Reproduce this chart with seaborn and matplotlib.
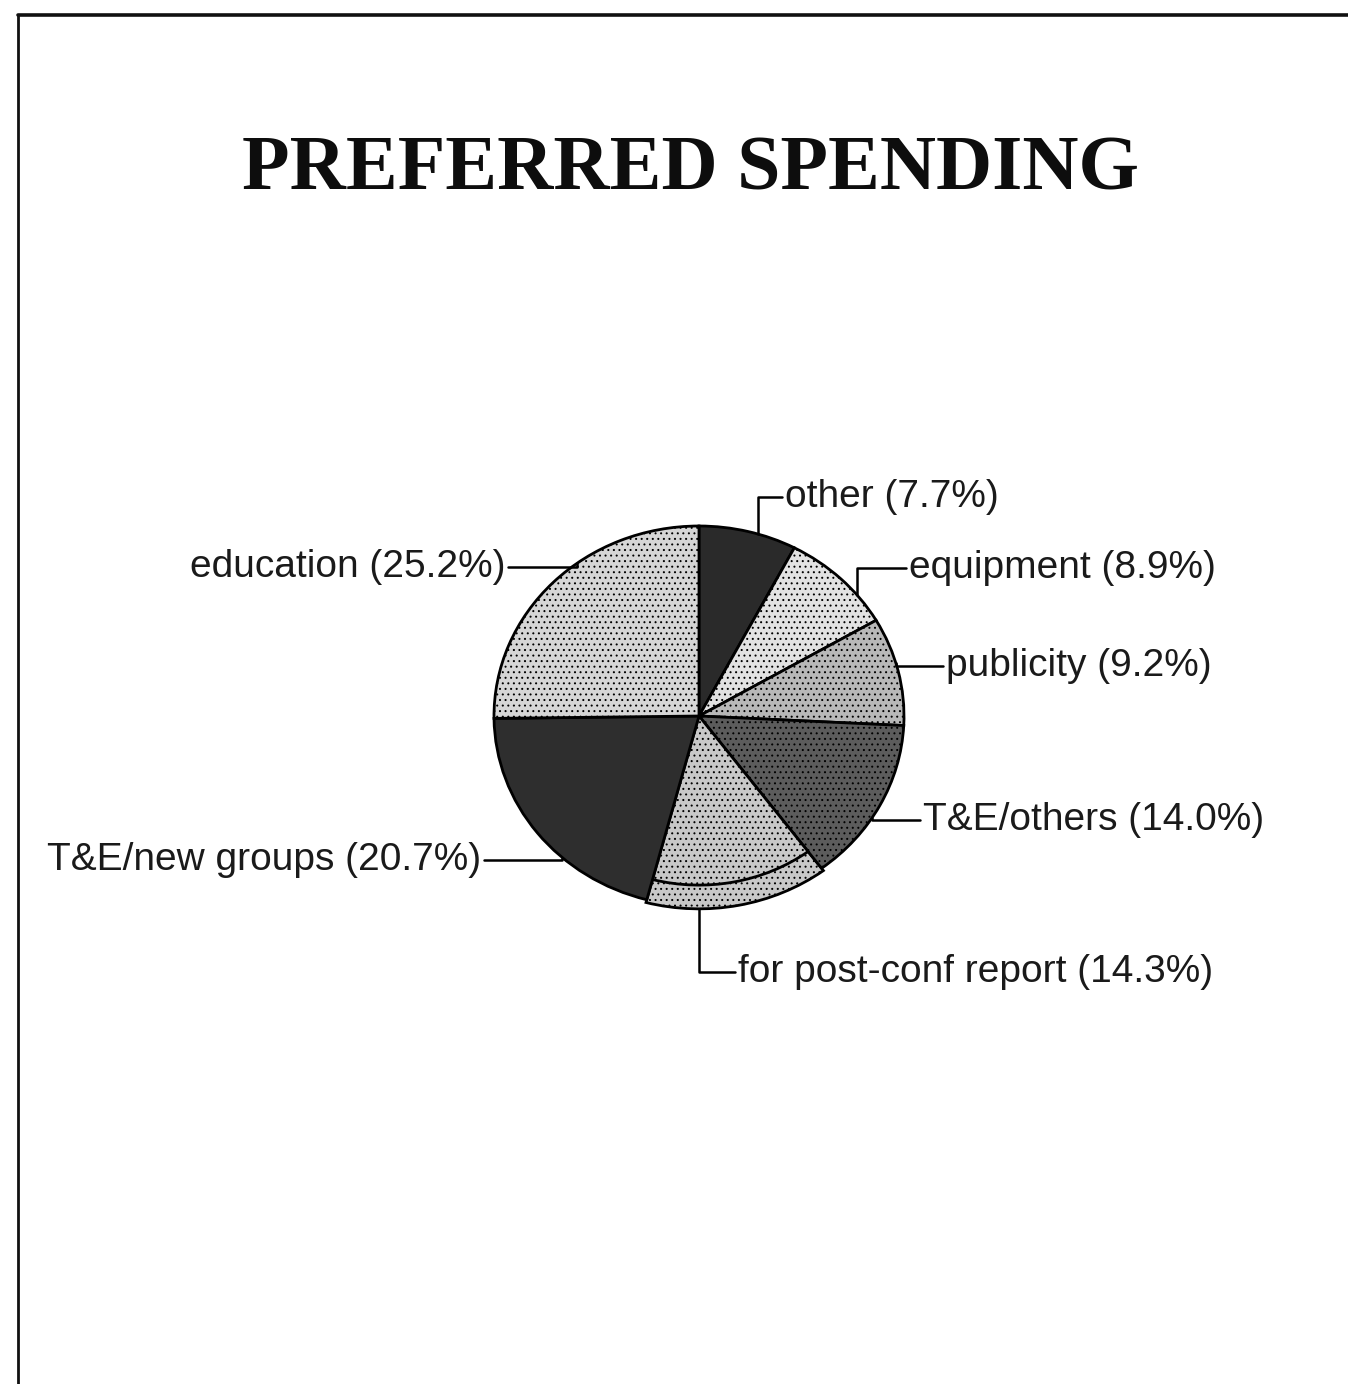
import numpy as np
import matplotlib
matplotlib.use("Agg")
import matplotlib.pyplot as plt
import seaborn as sns
from matplotlib.patches import Wedge
from matplotlib.lines import Line2D

# Spending shares, listed clockwise from 12 o'clock
categories = ["other", "equipment", "publicity", "T&E/others",
              "for post-conf report", "T&E/new groups", "education"]
shares = [7.7, 8.9, 9.2, 14.0, 14.3, 20.7, 25.2]

# Grey fills; the lighter slices carry a dotted screen
fills = ["#2a2a2a", "#e2e2e2", "#b8b8b8", "#5c5c5c", "#c8c8c8", "#2e2e2e", "#d6d6d6"]
screened = [False, True, True, True, True, False, True]

sns.set_theme(style="white")
plt.rcParams["font.family"] = ["Liberation Sans", "DejaVu Sans"]
plt.rcParams["hatch.linewidth"] = 0.7

W, H = 1348, 1384
fig = plt.figure(figsize=(W / 100, H / 100), dpi=100)
fig.patch.set_facecolor("white")

# pie placement in pixels (centre and the two radii of the slightly squashed disc)
cx, cy, rx, ry = 699, 716, 205, 190
ax = fig.add_axes([(cx - rx) / W, 1 - (cy + ry) / H, 2 * rx / W, 2 * ry / H])
wedges, _ = ax.pie(shares, startangle=90, counterclock=False, colors=fills,
                   wedgeprops=dict(edgecolor="black", linewidth=2.0))
ax.set_aspect("auto")
ax.set_xlim(-1, 1)
ax.set_ylim(-1, 1)
ax.axis("off")

for w, dotted in zip(wedges, screened):
    w.set_clip_on(False)
    if dotted:
        w.set_hatch("...")

# the post-conference slice is lifted, showing a rim beneath its face
lifted = wedges[categories.index("for post-conf report")]
rim = Wedge((0, 0), 1.015, lifted.theta1, lifted.theta2,
            facecolor=lifted.get_facecolor(), edgecolor="black",
            linewidth=2.0, hatch="...", zorder=lifted.get_zorder() - 0.5,
            clip_on=False)
ax.add_patch(rim)
lifted.set_radius(0.89)

labels = [f"{c} ({v:.1f}%)" for c, v in zip(categories, shares)]

# leader anchor (angle on rim, radius) and text point in pixels, text side
layout = [
    (73.3, 1.0, 785, 497, "left"),
    (39.6, 1.0, 909, 568, "left"),
    (16.3, 1.0, 946, 666, "left"),
    (-32.3, 1.0, 923, 820, "left"),
    (-90.0, 1.015, 738, 972, "left"),
    (-131.8, 1.0, 481, 860, "right"),
    (126.5, 1.0, 505, 567, "right"),
]

for text, (ang, rad, tx, ty, side) in zip(labels, layout):
    t = np.deg2rad(ang)
    ax.annotate(text, xy=(rad * np.cos(t), rad * np.sin(t)), xycoords="data",
                xytext=(tx, H - ty), textcoords="figure pixels",
                ha=side, va="center", fontsize=28, color="#1a1a1a",
                annotation_clip=False,
                arrowprops=dict(arrowstyle="-", color="black", lw=1.8,
                                shrinkA=0, shrinkB=0,
                                relpos=(0, 0.5) if side == "left" else (1, 0.5),
                                connectionstyle="angle,angleA=0,angleB=90,rad=0"))

fig.text(690 / W, 1 - 190 / H, "PREFERRED SPENDING", ha="center", va="baseline",
         fontsize=56, fontweight="bold", family=["Liberation Serif", "DejaVu Serif"],
         color="#0d0d0d")

# page frame: top rule and left rule
fig.add_artist(Line2D([18 / W, 1.0], [1 - 15 / H, 1 - 15 / H],
                      transform=fig.transFigure, color="#111111", lw=2.6))
fig.add_artist(Line2D([18 / W, 18 / W], [1 - 15 / H, 0.0],
                      transform=fig.transFigure, color="#111111", lw=2.0))

fig.savefig("out.png", dpi=100, facecolor="white")
